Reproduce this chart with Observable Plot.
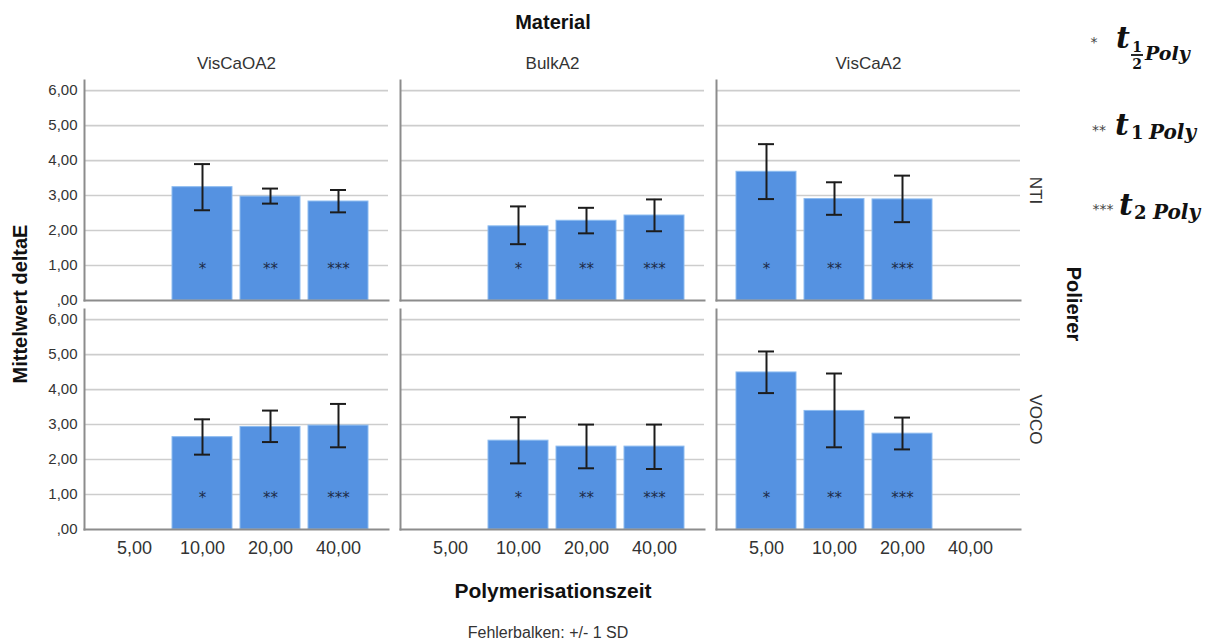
<!DOCTYPE html>
<html>
<head>
<meta charset="utf-8">
<script src="https://cdn.jsdelivr.net/npm/d3@7"></script>
<script src="https://cdn.jsdelivr.net/npm/@observablehq/plot@0.6"></script>
<style>
  html, body { margin: 0; padding: 0; background: #fff; }
  #wrap { position: relative; width: 1209px; height: 642px; }
  #wrap svg { position: absolute; left: 0; top: 0; }
</style>
</head>
<body>
<div id="wrap"></div>
<script>
// Categories
const materials = ["VisCaOA2", "BulkA2", "VisCaA2"];
const polierer = ["NTI", "VOCO"];
const zeiten = ["5,00", "10,00", "20,00", "40,00"];
const yTicks = [0, 1, 2, 3, 4, 5, 6];

// One entry per bar
const barMaterial = ["VisCaOA2", "VisCaOA2", "VisCaOA2", "BulkA2", "BulkA2", "BulkA2", "VisCaA2", "VisCaA2", "VisCaA2",
                     "VisCaOA2", "VisCaOA2", "VisCaOA2", "BulkA2", "BulkA2", "BulkA2", "VisCaA2", "VisCaA2", "VisCaA2"];
const barPolierer = ["NTI", "NTI", "NTI", "NTI", "NTI", "NTI", "NTI", "NTI", "NTI",
                     "VOCO", "VOCO", "VOCO", "VOCO", "VOCO", "VOCO", "VOCO", "VOCO", "VOCO"];
const barZeit = ["10,00", "20,00", "40,00", "10,00", "20,00", "40,00", "5,00", "10,00", "20,00",
                 "10,00", "20,00", "40,00", "10,00", "20,00", "40,00", "5,00", "10,00", "20,00"];
const barMean = [3.24, 2.97, 2.83, 2.12, 2.28, 2.43, 3.68, 2.90, 2.89,
                 2.64, 2.93, 2.97, 2.54, 2.37, 2.37, 4.49, 3.39, 2.74];
const errLow  = [2.58, 2.77, 2.52, 1.61, 1.92, 1.98, 2.90, 2.45, 2.24,
                 2.14, 2.50, 2.35, 1.89, 1.75, 1.73, 3.90, 2.35, 2.29];
const errHigh = [3.90, 3.20, 3.16, 2.69, 2.65, 2.89, 4.47, 3.38, 3.57,
                 3.15, 3.40, 3.59, 3.21, 3.00, 3.00, 5.09, 4.46, 3.20];
const barMark = ["*", "**", "***", "*", "**", "***", "*", "**", "***",
                 "*", "**", "***", "*", "**", "***", "*", "**", "***"];

// Legend labels
const legendMarks = ["*", "**", "***"];
const legendSubs = ["1/2", "1", "2"];

const rows = barMean.map((m, i) => ({
  material: barMaterial[i], polierer: barPolierer[i], zeit: barZeit[i],
  mean: m, lo: errLow[i], hi: errHigh[i], mark: barMark[i], my: 0.9
}));

const fmt = d => d === 0 ? ",00" : d.toFixed(2).replace(".", ",");

const chart = Plot.plot({
  width: 1209,
  height: 642,
  marginLeft: 83,
  marginRight: 188,
  marginTop: 79,
  marginBottom: 113,
  style: { fontFamily: "'Liberation Sans', Arial, sans-serif", background: "transparent", color: "#333" },
  fx: { domain: materials, paddingInner: 12 / 317, paddingOuter: 0, label: null },
  fy: { domain: polierer, paddingInner: 0.04, paddingOuter: 0, label: null },
  x: { domain: zeiten, paddingInner: 0.116, paddingOuter: 0.275, label: null },
  y: { domain: [0, 6.29], label: null },
  marks: [
    Plot.gridY({ ticks: [1, 2, 3, 4, 5, 6], stroke: "#cdcdcd", strokeOpacity: 1, strokeWidth: 1.6 }),
    Plot.barY(rows, { fx: "material", fy: "polierer", x: "zeit", y: "mean", fill: "#5592e1", stroke: "#8dbcf0", strokeWidth: 1 }),
    Plot.frame({ anchor: "left", stroke: "#8c8c8c", strokeWidth: 2 }),
    Plot.frame({ anchor: "bottom", stroke: "#8c8c8c", strokeWidth: 2 }),
    Plot.ruleX(rows, { fx: "material", fy: "polierer", x: "zeit", y1: "lo", y2: "hi", stroke: "#1c1c1c", strokeWidth: 2 }),
    Plot.tickY(rows, { fx: "material", fy: "polierer", x: "zeit", y: "lo", inset: 22, stroke: "#1c1c1c", strokeWidth: 2 }),
    Plot.tickY(rows, { fx: "material", fy: "polierer", x: "zeit", y: "hi", inset: 22, stroke: "#1c1c1c", strokeWidth: 2 }),
    Plot.text(rows, { fx: "material", fy: "polierer", x: "zeit", y: "my", text: "mark", fontSize: 15, fontFamily: "'DejaVu Sans', sans-serif", fill: "#1d2c48" }),
    Plot.axisY({ ticks: yTicks, tickFormat: fmt, tickSize: 0, tickPadding: 7, fontSize: 15, label: null }),
    Plot.axisX({ tickSize: 0, tickPadding: 12, fontSize: 18, label: null }),
    Plot.axisFx({ anchor: "top", tickSize: 0, tickPadding: 12, fontSize: 17, label: null }),
    Plot.axisFy({ anchor: "right", tickSize: 0, tickRotate: 90, tickPadding: 22, fontSize: 17, label: null })
  ]
});

const wrap = document.getElementById("wrap");
wrap.appendChild(chart);

// Overlay with titles and the legend
const ov = d3.select(wrap).append("svg")
  .attr("width", 1209).attr("height", 642)
  .style("font-family", "'Liberation Sans', Arial, sans-serif");

function label(x, y, txt, size, opts = {}) {
  const t = ov.append("text")
    .attr("x", x).attr("y", y)
    .attr("text-anchor", opts.anchor || "middle")
    .attr("dominant-baseline", opts.baseline || "central")
    .attr("font-size", size)
    .attr("font-weight", opts.bold ? "bold" : "normal")
    .attr("fill", opts.fill || "#111")
    .text(txt);
  if (opts.rotate) t.attr("transform", `rotate(${opts.rotate},${x},${y})`);
  if (opts.family) t.attr("font-family", opts.family);
  if (opts.italic) t.attr("font-style", "italic");
  return t;
}

label(553, 22, "Material", 20, { bold: true });
label(20, 304, "Mittelwert deltaE", 20, { bold: true, rotate: -90 });
label(1074, 304, "Polierer", 20, { bold: true, rotate: 90 });
label(553, 590, "Polymerisationszeit", 21, { bold: true });
label(548, 632, "Fehlerbalken: +/- 1 SD", 16, { fill: "#333" });

// Legend
const serif = "'DejaVu Serif', serif";
const sans = "'DejaVu Sans', sans-serif";
// row 1: * t_{1/2 Poly}
label(1094, 47, legendMarks[0], 14, { fill: "#444", family: sans, baseline: "alphabetic" });
label(1116, 48, "t", 30, { family: serif, bold: true, italic: true, anchor: "start", baseline: "alphabetic" });
const [num, den] = legendSubs[0].split("/");
label(1137, 52, num, 14, { family: serif, bold: true, baseline: "alphabetic" });
ov.append("line").attr("x1", 1131).attr("x2", 1143).attr("y1", 55).attr("y2", 55).attr("stroke", "#111").attr("stroke-width", 1.8);
label(1137, 69, den, 14, { family: serif, bold: true, baseline: "alphabetic" });
label(1145, 60, "Poly", 19, { family: serif, bold: true, italic: true, anchor: "start", baseline: "alphabetic" });
// row 2: ** t_{1 Poly}
label(1099, 135, legendMarks[1], 14, { fill: "#444", family: sans, baseline: "alphabetic" });
label(1115, 135, "t", 30, { family: serif, bold: true, italic: true, anchor: "start", baseline: "alphabetic" });
label(1131, 139, legendSubs[1], 18, { family: serif, bold: true, anchor: "start", baseline: "alphabetic" });
label(1149, 139, "Poly", 20, { family: serif, bold: true, italic: true, anchor: "start", baseline: "alphabetic" });
// row 3: *** t_{2 Poly}
label(1103, 214, legendMarks[2], 14, { fill: "#444", family: sans, baseline: "alphabetic" });
label(1119, 215, "t", 30, { family: serif, bold: true, italic: true, anchor: "start", baseline: "alphabetic" });
label(1134, 219, legendSubs[2], 18, { family: serif, bold: true, anchor: "start", baseline: "alphabetic" });
label(1153, 219, "Poly", 20, { family: serif, bold: true, italic: true, anchor: "start", baseline: "alphabetic" });
</script>
</body>
</html>
